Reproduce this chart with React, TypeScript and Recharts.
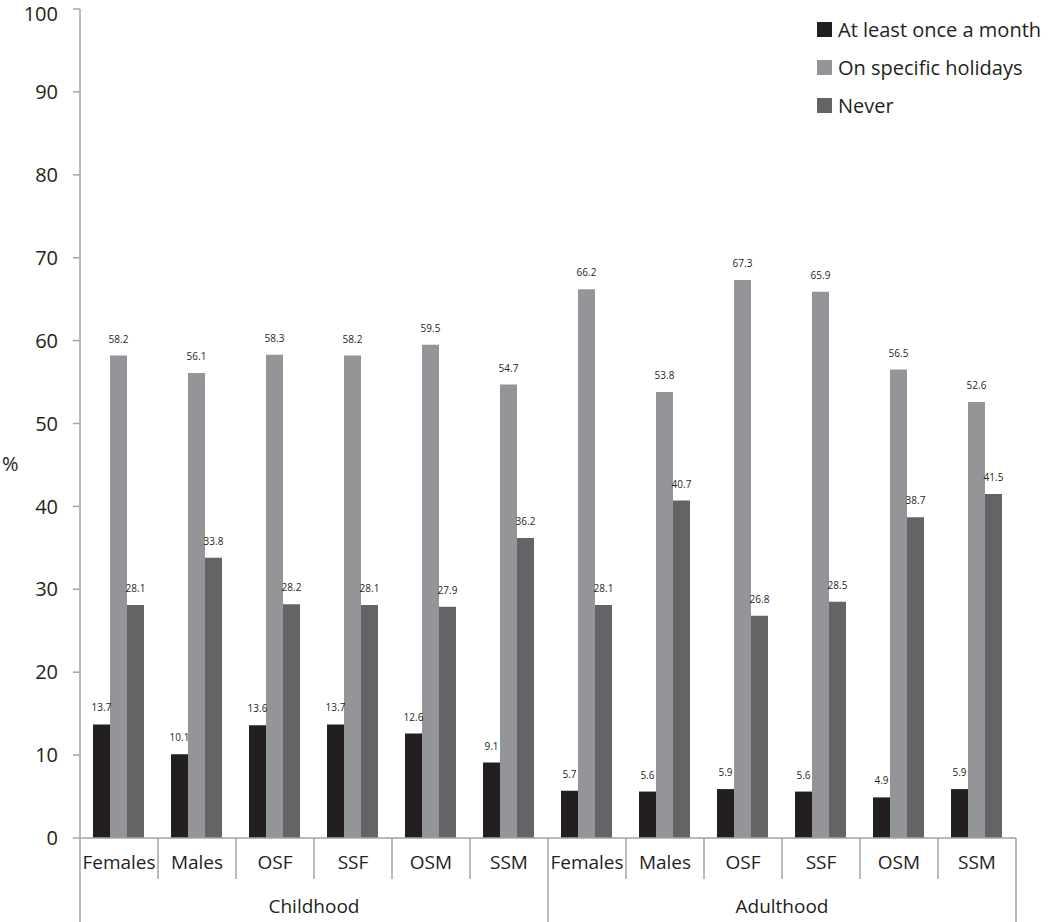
import { BarChart, Bar, XAxis, YAxis, Legend, LabelList } from 'recharts';

// categories along the x axis (two groups of six)
const groups = ['Childhood', 'Adulthood'];
const subgroups = ['Females', 'Males', 'OSF', 'SSF', 'OSM', 'SSM'];

// % per category
const monthly = [13.7, 10.1, 13.6, 13.7, 12.6, 9.1, 5.7, 5.6, 5.9, 5.6, 4.9, 5.9];
const holidays = [58.2, 56.1, 58.3, 58.2, 59.5, 54.7, 66.2, 53.8, 67.3, 65.9, 56.5, 52.6];
const never = [28.1, 33.8, 28.2, 28.1, 27.9, 36.2, 28.1, 40.7, 26.8, 28.5, 38.7, 41.5];

const yTicks = [0, 10, 20, 30, 40, 50, 60, 70, 80, 90, 100];

const series = [
  { key: 'monthly', name: 'At least once a month', color: '#231f20' },
  { key: 'holidays', name: 'On specific holidays', color: '#939598' },
  { key: 'never', name: 'Never', color: '#636466' },
];

const AXIS = '#a3a3a3';
const TEXT = '#231f20';
const FONT = '"Open Sans", sans-serif';

const data = groups.flatMap((g, gi) =>
  subgroups.map((s, si) => {
    const i = gi * subgroups.length + si;
    return {
      id: `${g}-${s}`,
      label: s,
      group: g,
      monthly: monthly[i],
      holidays: holidays[i],
      never: never[i],
    };
  })
);

const CategoryTick = (props: any) => {
  const { x, y, payload, index } = props;
  const half = payload?.offset || 39;
  const row = data[index];
  const pos = index % subgroups.length;
  const lastInGroup = pos === subgroups.length - 1;
  return (
    <g>
      <text x={x} y={y + 31} textAnchor="middle" fontSize={19} fontFamily={FONT} fill={TEXT}>
        {row?.label}
      </text>
      {index === 0 && (
        <line x1={x - half} x2={x - half} y1={y} y2={y + 84} stroke={AXIS} strokeWidth={1.5} />
      )}
      <line
        x1={x + half}
        x2={x + half}
        y1={y}
        y2={lastInGroup ? y + 84 : y + 41}
        stroke={AXIS}
        strokeWidth={1.5}
      />
      {pos === 2 && (
        <text x={x + half} y={y + 75} textAnchor="middle" fontSize={19} fontFamily={FONT} fill={TEXT}>
          {row?.group}
        </text>
      )}
    </g>
  );
};

// legend keeps the series order (recharts sorts by name otherwise)
const renderLegend = () => (
  <div style={{ fontFamily: FONT, fontSize: 20, color: TEXT }}>
    {series.map((s) => (
      <div key={s.key} style={{ display: 'flex', alignItems: 'center', height: 38 }}>
        <span style={{ width: 15, height: 15, background: s.color, marginRight: 6, display: 'inline-block' }} />
        <span>{s.name}</span>
      </div>
    ))}
  </div>
);

const fmt = (v: any) => Number(v).toFixed(1);

export default function App() {
  return (
    <div style={{ position: 'absolute', left: 0, top: 0, width: 1050, height: 922, background: '#fff' }}>
      <BarChart
        width={1050}
        height={922}
        data={data}
        margin={{ top: 9, right: 34, bottom: 0, left: 0 }}
        barCategoryGap={13}
        barGap={0}
      >
        <XAxis
          dataKey="id"
          height={84}
          tickLine={false}
          tickSize={0}
          tickMargin={0}
          axisLine={{ stroke: AXIS, strokeWidth: 1.5 }}
          tick={<CategoryTick />}
          interval={0}
        />
        <YAxis
          width={80}
          domain={[0, 100]}
          ticks={yTicks}
          tickSize={7}
          tickMargin={15}
          axisLine={{ stroke: AXIS, strokeWidth: 1.5 }}
          tickLine={{ stroke: AXIS, strokeWidth: 1.5 }}
          tick={{ fontSize: 20, fontFamily: FONT, fill: TEXT }}
          label={{ value: '%', position: 'insideLeft', offset: 2, dy: 40, fontSize: 20, fontFamily: FONT, fill: TEXT }}
        />
        <Legend
          layout="horizontal"
          verticalAlign="middle"
          align="center"
          content={renderLegend}
          wrapperStyle={{ top: 10, left: 817, right: 'auto', bottom: 'auto', width: 240 }}
        />
        {series.map((s) => (
          <Bar key={s.key} dataKey={s.key} name={s.name} fill={s.color} isAnimationActive={false}>
            <LabelList dataKey={s.key} position="top" offset={13} formatter={fmt} style={{ fontSize: 10, fontFamily: FONT, fill: TEXT }} />
          </Bar>
        ))}
      </BarChart>
    </div>
  );
}
